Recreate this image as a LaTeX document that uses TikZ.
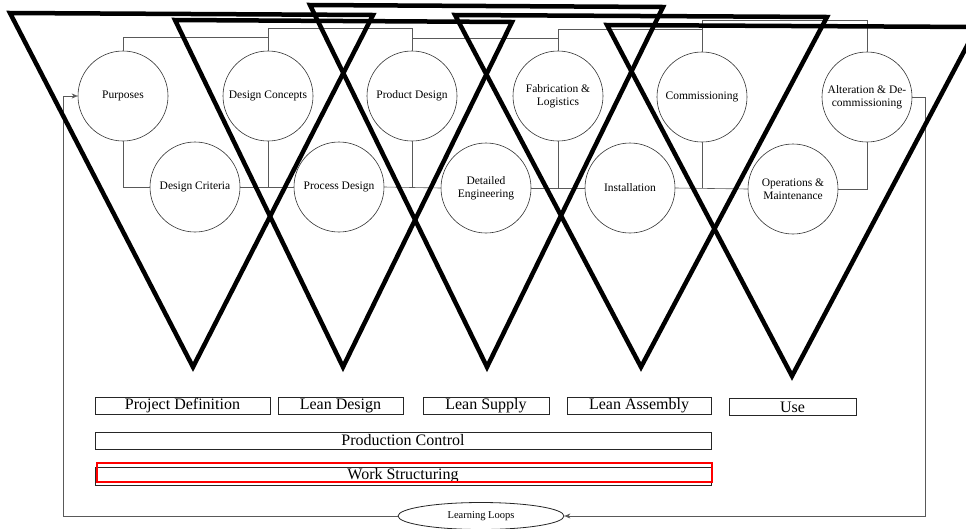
\documentclass[tikz,border=0pt]{standalone}
\usepackage{fontspec}
\setmainfont{Liberation Serif}
\usetikzlibrary{shapes.geometric,arrows.meta}
\begin{document}
\begin{tikzpicture}[x=1pt,y=-1pt,
  tri/.style={line width=4.5pt,line join=miter,draw=black},
  circ/.style={circle,draw=black!80,line width=0.6pt,minimum size=90pt,inner sep=0pt,align=center,font=\fontsize{11.5}{12.5}\selectfont},
  conn/.style={draw=black!65,line width=0.6pt},
  bar/.style={draw=black!85,line width=0.9pt,rectangle,inner sep=0pt,font=\fontsize{16}{17}\selectfont},
  arr/.style={conn,-{Stealth[length=6pt,width=5pt]}}]
\useasboundingbox (0,0) rectangle (966,528);
\clip (0,0) rectangle (966,528);
\fill[white] (0,0) rectangle (966,528);
% circles top row
\node[circ] (pur) at (123,96) {Purposes};
\node[circ] (dco) at (268,96) {Design Concepts};
\node[circ] (prd) at (412,96) {Product Design};
\node[circ] (fab) at (558,96) {Fabrication \&\\Logistics};
\node[circ] (com) at (702,97) {Commissioning};
\node[circ] (alt) at (867,97) {Alteration \& De-\\commissioning};
% bottom row
\node[circ] (dcr) at (195,187) {Design Criteria};
\node[circ] (prc) at (339,187) {Process Design};
\node[circ] (det) at (486,188) {Detailed\\Engineering};
\node[circ] (ins) at (630,188) {Installation};
\node[circ] (ops) at (793,189) {Operations \&\\Maintenance};
% top connectors
\draw[conn] (pur.north) -- (pur.north |- 0,37) -| (dco.north);
\draw[conn] (dco.north) -- (dco.north |- 0,28) -| (prd.north);
\draw[conn] (prd.north) -- (prd.north |- 0,38) -| (fab.north);
\draw[conn] (fab.north) -- (fab.north |- 0,29) -| (com.north);
\draw[conn] (com.north) -- (com.north |- 0,20) -| (alt.north);
% bottom connectors
\draw[conn] (pur.south) |- (dcr.west);
\draw[conn] (dcr.east) -- (prc.west);
\draw[conn] (dco.south) -- (dco.south |- dcr.east);
\draw[conn] (prc.east) -- (det.west);
\draw[conn] (prd.south) -- (prd.south |- prc.east);
\draw[conn] (det.east) -- (ins.west);
\draw[conn] (fab.south) -- (fab.south |- det.east);
\draw[conn] (ins.east) -- (ops.west);
\draw[conn] (com.south) -- (com.south |- ins.east);
\draw[conn] (alt.south) |- (ops.east);
% bars
\node[bar,minimum width=175pt,minimum height=17pt] (pdef) at (182.5,406) {Project Definition};
\node[bar,minimum width=125pt,minimum height=17pt] (ldes) at (340.5,406) {Lean Design};
\node[bar,minimum width=126pt,minimum height=17pt] (lsup) at (486,406) {Lean Supply};
\node[bar,minimum width=144pt,minimum height=17pt] (lass) at (639,406) {Lean Assembly};
\node[bar,minimum width=127pt,minimum height=17pt] (use) at (792.5,407) {Use};
\node[bar,minimum width=616pt,minimum height=17pt] (pctl) at (403,440.5) {Production Control};
\node[bar,minimum width=616pt,minimum height=18pt] (wstr) at (403,476) {Work Structuring};
\draw[red,line width=2pt] (97,463) rectangle (712,482);
% learning loops
\node[ellipse,draw=black!85,line width=0.8pt,minimum width=166pt,minimum height=27pt,inner sep=0pt,font=\fontsize{10.5}{11}\selectfont] (ll) at (481,516) {Learning Loops};
\coordinate (cTR) at (925,97);
\coordinate (cBR) at (925,516);
\coordinate (cBL) at (63,516);
\coordinate (cTL) at (63,96);
\draw[arr] (alt.east) -- (cTR) -- (cBR) -- (ll.east);
\draw[arr] (ll.west) -- (cBL) -- (cTL) -- (pur.west);
% triangles
\draw[tri] (10,13) -- (373,15) -- (193,367) -- cycle;
\draw[tri] (175,20) -- (512,22) -- (343,367) -- cycle;
\draw[tri] (310,5) -- (663,7) -- (487,367) -- cycle;
\draw[tri] (455,15) -- (827,17) -- (641,367) -- cycle;
\draw[tri] (607,25) -- (977,27) -- (792,376) -- cycle;
\end{tikzpicture}
\end{document}
